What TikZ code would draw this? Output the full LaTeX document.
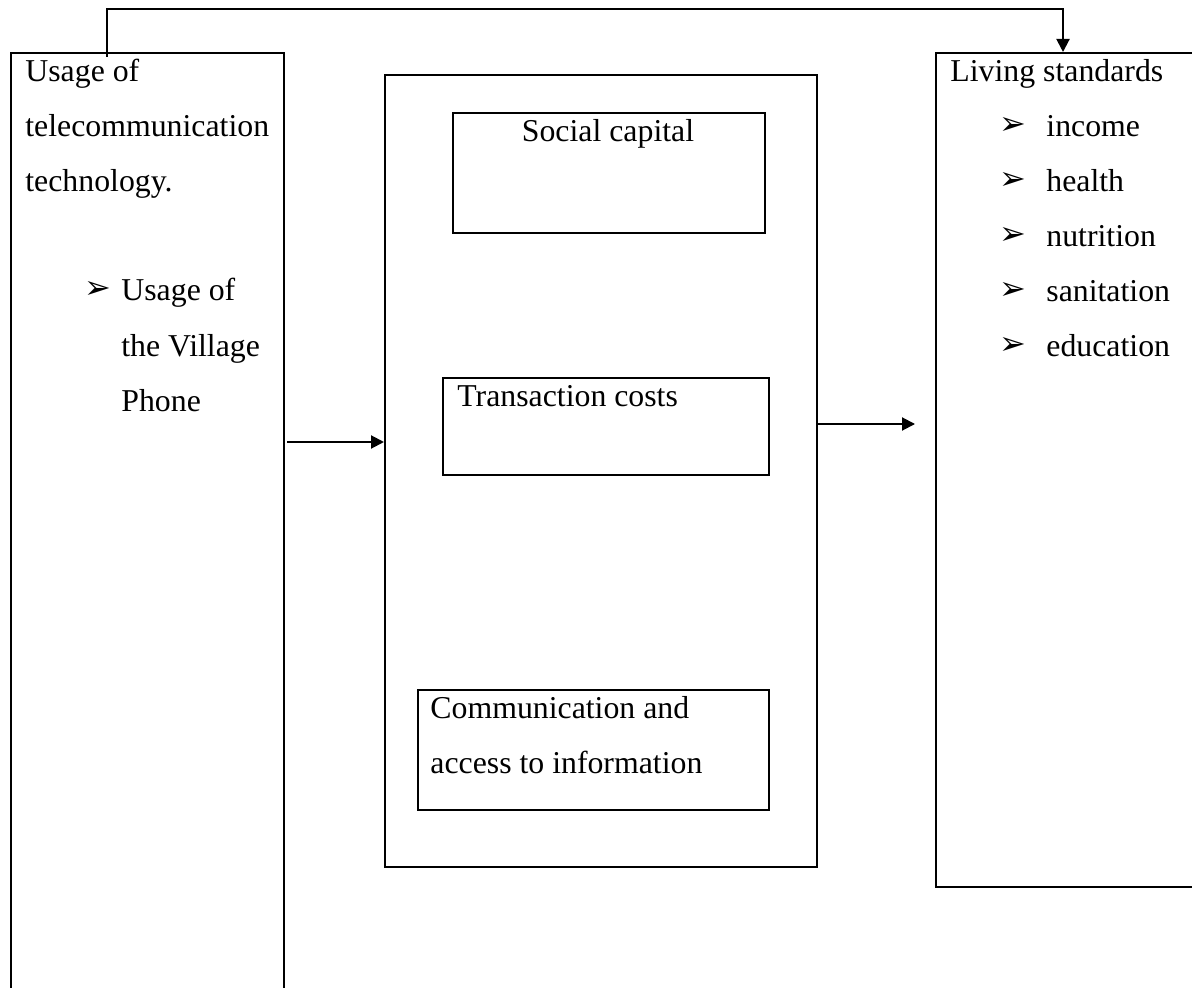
\documentclass[tikz,border=0pt]{standalone}
\usepackage{fontspec}
\setmainfont{Liberation Serif}
\newfontfamily\dvfont{DejaVu Sans}
\usetikzlibrary{arrows.meta}
\tikzset{
  box/.style={draw, line width=1pt, inner sep=0pt, anchor=north west},
  txt/.style={inner sep=0pt, anchor=base west, font=\fontsize{15.9}{27.5}\selectfont},
  ctxt/.style={inner sep=0pt, anchor=base, font=\fontsize{15.9}{27.5}\selectfont},
  bul/.style={inner sep=0pt, anchor=base west, font=\dvfont\fontsize{16}{18}\selectfont},
  conn/.style={line width=1pt},
  arr/.style={line width=1pt, -{Triangle[length=6.5pt,width=6.5pt]}}
}
\begin{document}
\begin{tikzpicture}[x=0.5pt,y=-0.5pt]
\useasboundingbox (0,0) rectangle (1192,988);
% outer boxes
\node[box, minimum width=273pt*0.5, minimum height=960pt*0.5] (lbox) at (10,52) {};
\node[box, minimum width=300pt*0.5, minimum height=834pt*0.5] (rbox) at (935,52) {};
\node[box, minimum width=432pt*0.5, minimum height=792pt*0.5] (mid) at (384,74) {};
% inner boxes
\node[box, minimum width=312pt*0.5, minimum height=120pt*0.5] (soc) at (452,112) {};
\node[box, minimum width=326pt*0.5, minimum height=97pt*0.5] (tra) at (442,377) {};
\node[box, minimum width=351pt*0.5, minimum height=120pt*0.5] (com) at (417,689) {};
% left texts
\node[txt] (l1) at (25,82) {Usage of};
\node[txt] (l2) at (25,137) {telecommunication};
\node[txt] (l3) at (25,192) {technology.};
\node[bul] (lb) at (84,299) {➢};
\node[txt] (l4) at (121,301) {Usage of};
\node[txt] (l5) at (121,357) {the Village};
\node[txt] (l6) at (121,412) {Phone};
% middle texts
\node[ctxt] (t1) at (608,142) {Social capital};
\node[txt] (t2) at (457,407) {Transaction costs};
\node[txt] (t3) at (430,718) {Communication and};
\node[txt] (t4) at (430,773) {access to information};
% right texts
\node[txt] (r0) at (950,82) {Living standards};
\foreach \y/\w [count=\i] in {137/income,192/health,247/nutrition,302/sanitation,357/education}{
  \node[bul] (rb\i) at (999,\y-2) {➢};
  \node[txt] (r\i) at (1046,\y) {\w};
}
% connectors
\coordinate (ts) at (107,57);
\coordinate (te) at (1063,52);
\draw[arr] (ts) -- ++(0,-48) -| (te);
\coordinate (a1) at (287,442);
\coordinate (a2) at (815,424);
\draw[arr] (a1) -- (mid.west |- a1);
\draw[arr] (mid.east |- a2) -- ++(97,0);
\end{tikzpicture}
\end{document}
